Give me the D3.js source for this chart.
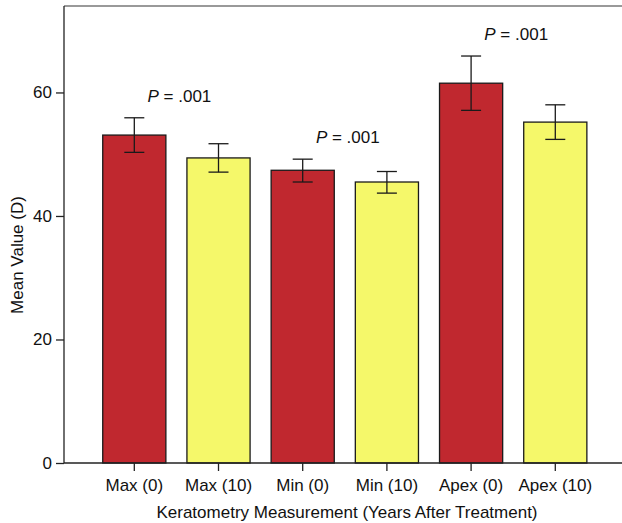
<!DOCTYPE html>
<html>
<head>
<meta charset="utf-8">
<script src="https://cdn.jsdelivr.net/npm/d3@7"></script>
<style>
  body { margin: 0; background: #fff; }
  text { font-family: "Liberation Sans", Arial, sans-serif; fill: #111; }
</style>
</head>
<body>
<div id="graph"></div>
<script>
// data
const categories = ["Max (0)", "Max (10)", "Min (0)", "Min (10)", "Apex (0)", "Apex (10)"];
const means = [53.1, 49.4, 47.4, 45.5, 61.5, 55.2];
const errHigh = [55.9, 51.7, 49.2, 47.2, 65.9, 58.0];
const errLow = [50.3, 47.1, 45.5, 43.7, 57.1, 52.4];
const yTicks = [0, 20, 40, 60];
const pLabels = [
  { pair: ["Max (0)", "Max (10)"], text: ".001" },
  { pair: ["Min (0)", "Min (10)"], text: ".001" },
  { pair: ["Apex (0)", "Apex (10)"], text: ".001" }
];

function main() {
  const container = document.getElementById("graph");
  const svg = d3.create("svg").attr("width", 622).attr("height", 523);

  const left = 64, top = 6, bottom = 463, right = 622;

  const x = d3.scaleBand()
    .domain(categories)
    .range([left, 625.6])
    .paddingInner(0.25)
    .paddingOuter(0.46);

  const y = d3.scaleLinear()
    .domain([0, 74])
    .range([bottom, top]);

  const colors = i => (i % 2 === 0 ? "#c0282f" : "#f5f86a");

  // bars
  svg.append("g").selectAll("rect")
    .data(categories)
    .join("rect")
    .attr("x", d => x(d))
    .attr("y", (d, i) => y(means[i]))
    .attr("width", x.bandwidth())
    .attr("height", (d, i) => y(0) - y(means[i]))
    .attr("fill", (d, i) => colors(i))
    .attr("stroke", "#1a1a1a")
    .attr("stroke-width", 1.3);

  // error bars
  const gErr = svg.append("g").attr("stroke", "#1a1a1a").attr("stroke-width", 1.3);
  categories.forEach((c, i) => {
    const cx = x(c) + x.bandwidth() / 2;
    gErr.append("line").attr("x1", cx).attr("x2", cx).attr("y1", y(errHigh[i])).attr("y2", y(errLow[i]));
    gErr.append("line").attr("x1", cx - 10).attr("x2", cx + 10).attr("y1", y(errHigh[i])).attr("y2", y(errHigh[i]));
    gErr.append("line").attr("x1", cx - 10).attr("x2", cx + 10).attr("y1", y(errLow[i])).attr("y2", y(errLow[i]));
  });

  // P labels
  pLabels.forEach(p => {
    const i0 = categories.indexOf(p.pair[0]);
    const cx = (x(p.pair[0]) + x(p.pair[1])) / 2 + x.bandwidth() / 2 + 3;
    const t = svg.append("text")
      .attr("x", cx)
      .attr("y", y(errHigh[i0]) - 16)
      .attr("text-anchor", "middle")
      .style("font-size", "17px");
    t.append("tspan").style("font-style", "italic").text("P");
    t.append("tspan").text(" = " + p.text);
  });

  // frame
  svg.append("line").attr("x1", left).attr("x2", right).attr("y1", top).attr("y2", top)
    .attr("stroke", "#777").attr("stroke-width", 1.5);

  // y axis
  const gy = svg.append("g")
    .attr("transform", `translate(${left},0)`)
    .call(d3.axisLeft(y).tickValues(yTicks).tickSize(8).tickPadding(4).tickSizeOuter(0));
  gy.select(".domain").attr("d", `M0,${top}V${bottom}`).attr("stroke", "#222").attr("stroke-width", 1.3);
  gy.selectAll(".tick line").attr("stroke", "#222").attr("stroke-width", 1.3);
  gy.selectAll(".tick text").style("font-size", "17px").attr("font-family", null);

  // x axis
  const gx = svg.append("g")
    .attr("transform", `translate(0,${bottom})`)
    .call(d3.axisBottom(x).tickSize(8).tickPadding(8).tickSizeOuter(0));
  gx.select(".domain").attr("d", `M${left},0H${right}`).attr("stroke", "#222").attr("stroke-width", 1.3);
  gx.selectAll(".tick line").attr("stroke", "#222").attr("stroke-width", 1.3);
  gx.selectAll(".tick text").style("font-size", "17px").attr("font-family", null);

  // axis titles
  svg.append("text")
    .attr("x", 347)
    .attr("y", 518)
    .attr("text-anchor", "middle")
    .style("font-size", "17px")
    .text("Keratometry Measurement (Years After Treatment)");

  svg.append("text")
    .attr("transform", "translate(23,255) rotate(-90)")
    .attr("text-anchor", "middle")
    .style("font-size", "17px")
    .text("Mean Value (D)");

  container.appendChild(svg.node());
}

main();
</script>
</body>
</html>
